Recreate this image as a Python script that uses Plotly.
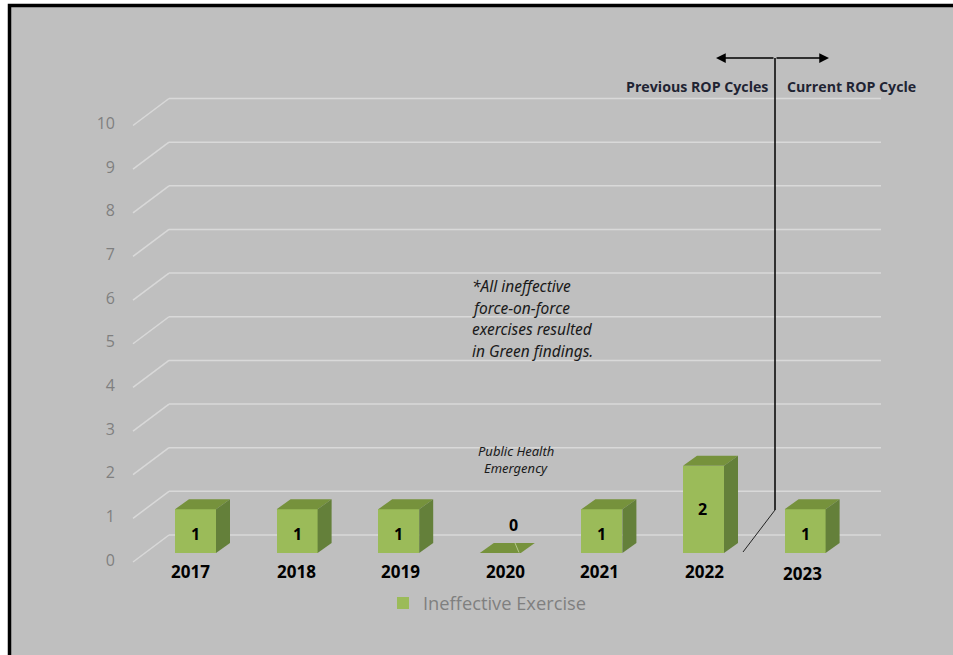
import plotly.graph_objects as go

# ---------- data ----------
years = [2017, 2018, 2019, 2020, 2021, 2022, 2023]
exercises = [1, 1, 1, 0, 1, 2, 1]
y_ticks = [0, 1, 2, 3, 4, 5, 6, 7, 8, 9, 10]
series_name = "Ineffective Exercise"
note_lines = ["*All ineffective", "force-on-force", "exercises resulted", "in Green findings."]
phe_lines = ["Public Health", "Emergency"]

# ---------- page geometry ----------
W, H = 953, 655
PX_YEAR = 101.6
PX_UNIT = 43.65
X0_PX = 195.5
Y0_PX = 553.0


def dx(px):
    return px / PX_YEAR


def dy(px):
    return px / PX_UNIT


def xd(px):
    return 2017 + (px - X0_PX) / PX_YEAR


def yd(py):
    return (Y0_PX - py) / PX_UNIT


GREEN = "#9BBB59"
TOP = "#76923C"
SIDE = "#64803A"
GRID = "#D9D9D9"
BG = "#BFBFBF"
BAR_W = dx(41)
DEPTH_X = dx(14)
DEPTH_Y = dy(10)

fig = go.Figure()

fig.add_trace(go.Bar(
    x=years, y=exercises, width=BAR_W, name=series_name,
    marker=dict(color=GREEN, line=dict(width=0)), showlegend=True,
    hoverinfo="x+y",
))

for yr, v in zip(years, exercises):
    l, r = yr - BAR_W / 2, yr + BAR_W / 2
    fig.add_trace(go.Scatter(
        x=[l, r, r + DEPTH_X, l + DEPTH_X, l],
        y=[v, v, v + DEPTH_Y, v + DEPTH_Y, v],
        mode="lines", fill="toself", fillcolor=TOP, line=dict(width=0, color=TOP),
        showlegend=False, hoverinfo="skip",
    ))
    if v > 0:
        fig.add_trace(go.Scatter(
            x=[r, r + DEPTH_X, r + DEPTH_X, r, r],
            y=[0, DEPTH_Y, v + DEPTH_Y, v, 0],
            mode="lines", fill="toself", fillcolor=SIDE, line=dict(width=0, color=SIDE),
            showlegend=False, hoverinfo="skip",
        ))

shapes = [
    dict(type="rect", xref="paper", yref="paper", x0=0, x1=1, y0=0, y1=1,
         fillcolor="white", line_width=0, layer="below"),
    dict(type="rect", xref="paper", yref="paper", x0=9.5 / W, x1=1.01, y0=-0.01, y1=1 - 5.5 / H,
         fillcolor=BG, line=dict(color="black", width=3.5), layer="below"),
]
# 3-D wall grid: floor-side stub and back-wall line for each tick value
for v in y_ticks:
    front, back = v + dy(553 - 562), v + dy(553 - 535)
    shapes.append(dict(type="line", xref="x", yref="y", layer="below",
                       x0=xd(133), y0=front, x1=xd(169), y1=back,
                       line=dict(color=GRID, width=1.5)))
    shapes.append(dict(type="line", xref="x", yref="y", layer="below",
                       x0=xd(169), y0=back, x1=xd(881), y1=back,
                       line=dict(color=GRID, width=1.5)))

# cycle divider
shapes += [
    dict(type="line", xref="x", yref="y", x0=xd(775), x1=xd(775), y0=yd(58), y1=yd(510),
         line=dict(color="black", width=1.5)),
    dict(type="line", xref="x", yref="y", x0=xd(775), x1=xd(743), y0=yd(510), y1=yd(552),
         line=dict(color="#222222", width=1)),
    dict(type="line", xref="x", yref="y", x0=xd(515), x1=xd(519), y0=yd(543), y1=yd(552.5),
         line=dict(color="#B5C98A", width=1)),
]

anns = []


def text(px, py, s, size, color="black", bold=False, italic=False, anchor="center", family=None):
    t = s
    if bold:
        t = f"<b>{t}</b>"
    if italic:
        t = f"<i>{t}</i>"
    anns.append(dict(x=xd(px), y=yd(py), xref="x", yref="y", text=t, showarrow=False,
                     xanchor=anchor, yanchor="middle",
                     font=dict(size=size, color=color, family=family or "Open Sans")))


# year labels, as hand-placed in the source
year_label_nudge = [-5, -1, 2, 5, -2, 0.5, -3]
year_label_drop = [0, 0, 0, 0, 0, 0, 2]
for yr, nx, ny in zip(years, year_label_nudge, year_label_drop):
    px = X0_PX + (yr - 2017) * PX_YEAR + nx
    text(px, 571.5 + ny, str(yr), 17, bold=True)

# value labels
for yr, v in zip(years, exercises):
    px = X0_PX + (yr - 2017) * PX_YEAR
    if v == 0:
        text(px + 13, 525, str(v), 16, bold=True)
    elif v == 1:
        text(px, 534, str(v), 16, bold=True)
    else:
        text(px - 1, 509, str(v), 16, bold=True)

text(696.5, 86, "Previous ROP Cycles", 14.2, color="#1F2433", bold=True)
text(851.5, 86, "Current ROP Cycle", 14.2, color="#1F2433", bold=True)

for line, py in zip(note_lines, [285.5, 307.5, 328.5, 350.5]):
    text(470, py, line, 15.5, color="#1A1A1A", italic=True, anchor="left", family="Noto Sans")
for line, py in zip(phe_lines, [450.5, 467.5]):
    text(516, py, line, 13, color="#1A1A1A", italic=True, family="Noto Sans")

# double-headed arrow
for end in (716, 829):
    anns.append(dict(x=xd(end), y=yd(58), ax=xd(775), ay=yd(58), xref="x", yref="y",
                     axref="x", ayref="y", text="", showarrow=True, arrowhead=2,
                     arrowsize=1.3, arrowwidth=1.5, arrowcolor="black"))

fig.update_layout(
    width=W, height=H, margin=dict(l=0, r=0, t=0, b=0), autosize=False,
    paper_bgcolor="white", plot_bgcolor="rgba(0,0,0,0)",
    shapes=shapes, annotations=anns,
    bargap=0,
    xaxis=dict(range=[xd(0), xd(W)], domain=[0, 1], showgrid=False, zeroline=False,
               showline=False, ticks="", showticklabels=False, fixedrange=True),
    yaxis=dict(range=[yd(H), yd(0)], domain=[0, 1], showgrid=False, zeroline=False,
               showline=False, ticks="", anchor="free", position=115 / W,
               tickvals=[v + dy(553 - 560) for v in y_ticks],
               ticktext=[str(v) for v in y_ticks], ticklabelstandoff=0,
               tickfont=dict(size=16, color="#7F7F7F", family="Open Sans"),
               fixedrange=True),
    legend=dict(orientation="h", x=383 / W, y=1 - 603 / H, xanchor="left", yanchor="middle",
                bgcolor="rgba(0,0,0,0)", font=dict(size=18.3, color="#7F7F7F", family="Open Sans"),
                itemclick=False, itemdoubleclick=False),
    showlegend=True,
)

fig.write_html("out.html", config={"displayModeBar": False},
               post_script="document.body.style.margin='0';document.body.style.overflow='hidden';")
